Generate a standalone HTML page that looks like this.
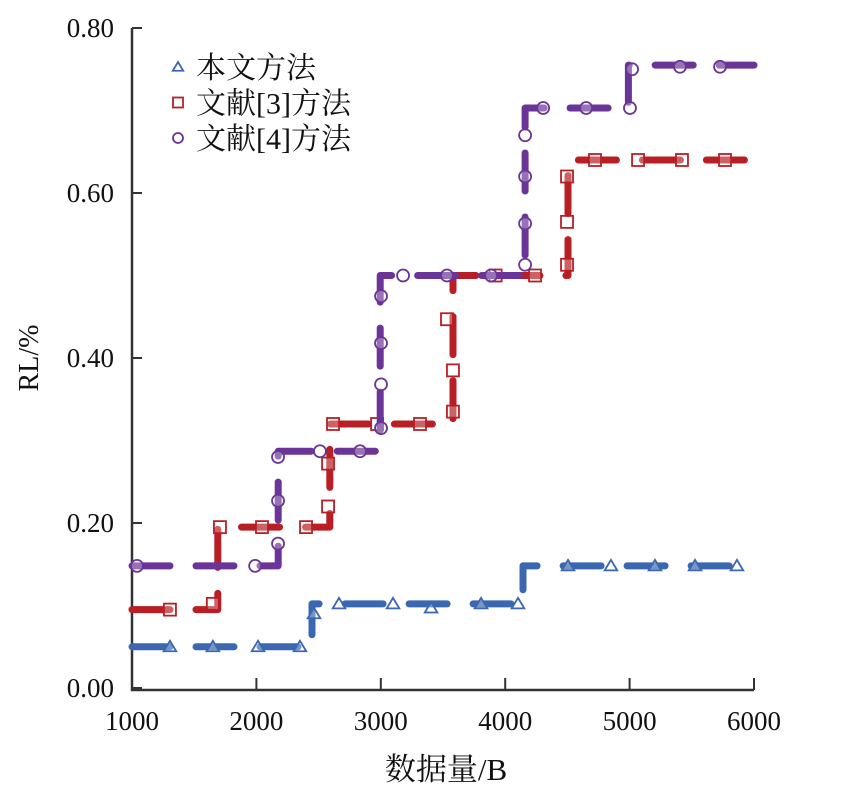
<!DOCTYPE html>
<html><head><meta charset="utf-8"><style>
html,body{margin:0;padding:0;background:#fff;width:846px;height:796px;overflow:hidden}
svg text{font-family:"Liberation Serif","Noto Serif CJK SC",serif;fill:#111}
</style></head><body>
<svg id="chart" width="846" height="796" viewBox="0 0 846 796" xmlns="http://www.w3.org/2000/svg"></svg>
<script>
const xTicks=[1000,2000,3000,4000,5000,6000];
const yTicks=[0,0.2,0.4,0.6,0.8];
const yTickLabels=["0.00","0.20","0.40","0.60","0.80"];
// step series: [x,y] breakpoints
const blueSteps=[[1000,0.05],[2447,0.05],[2447,0.102],[4143,0.102],[4143,0.148],[6000,0.148]];
const redSteps=[[1000,0.095],[1690,0.095],[1690,0.195],[2590,0.195],[2590,0.32],[3580,0.32],[3580,0.5],[4505,0.5],[4505,0.64],[6000,0.64]];
const purpleSteps=[[1000,0.148],[2175,0.148],[2175,0.287],[2995,0.287],[2995,0.5],[4160,0.5],[4160,0.703],[4990,0.703],[4990,0.755],[6000,0.755]];
const blueMarkers=[[1305,0.05],[1650,0.05],[2013,0.05],[2350,0.05],[2463,0.09],[2664,0.102],[3098,0.102],[3404,0.097],[3806,0.102],[4103,0.102],[4505,0.148],[4850,0.148],[5204,0.148],[5526,0.148],[5863,0.148]];
const redMarkers=[[1305,0.095],[1650,0.102],[1707,0.195],[2045,0.195],[2399,0.195],[2576,0.22],[2576,0.272],[2616,0.32],[2970,0.32],[3315,0.32],[3580,0.335],[3580,0.385],[3532,0.447],[3923,0.5],[4240,0.5],[4497,0.513],[4497,0.565],[4497,0.62],[4722,0.64],[5068,0.64],[5421,0.64],[5767,0.64]];
const purpleMarkers=[[1040,0.148],[1990,0.148],[2174,0.175],[2174,0.227],[2174,0.28],[2511,0.287],[2833,0.287],[3002,0.315],[3002,0.368],[3002,0.418],[3002,0.475],[3179,0.5],[3532,0.5],[3886,0.5],[4160,0.513],[4160,0.563],[4160,0.62],[4160,0.67],[4305,0.703],[4651,0.703],[5003,0.703],[5020,0.75],[5405,0.753],[5727,0.753]];

const NS="http://www.w3.org/2000/svg";
const svg=document.getElementById('chart');
const X0=132,X1=754,Y0=688,Y1=28;
const sx=v=>X0+(v-1000)/5000*(X1-X0);
const sy=v=>Y0-v/0.8*(Y0-Y1);
function mk(tag,attrs,parent){const e=document.createElementNS(NS,tag);for(const k in attrs)e.setAttribute(k,attrs[k]);(parent||svg).appendChild(e);return e;}

const ax=mk('path',{d:`M${X0},${Y1} V${Y0+2} H${X1}`,stroke:'#333',"stroke-width":2.5,fill:'none'});


xTicks.forEach(t=>{
  const l=mk('line',{x1:sx(t),x2:sx(t),y1:Y0+2,y2:Y0-10,stroke:'#333',"stroke-width":2});
  
  
  const tx=mk('text',{x:sx(t),y:730,"text-anchor":'middle',"font-size":27});
  tx.textContent=t;
  
  
});
yTicks.forEach((t,i)=>{
  const l=mk('line',{x1:X0,x2:X0+10,y1:sy(t),y2:sy(t),stroke:'#333',"stroke-width":2});
  
  
  const tx=mk('text',{x:114,y:sy(t)+9,"text-anchor":'end',"font-size":27});
  tx.textContent=yTickLabels[i];
  
  
});
const yt=mk('text',{x:0,y:0,"text-anchor":'middle',"font-size":28,transform:'translate(38,358) rotate(-90)'});
yt.textContent='RL/%';


const xt=mk('text',{x:446,y:780,"text-anchor":'middle',"font-size":31});
xt.textContent='数据量/B';



function marker(type,x,y,color,r,parent){
  let e;
  if(type==='tri'){e=mk('path',{d:`M${x},${y-r} L${x+r*1.05},${y+r*0.75} L${x-r*1.05},${y+r*0.75} Z`,fill:'#fff',"fill-opacity":0.3,stroke:color,"stroke-width":1.8},parent);}
  else if(type==='sq'){e=mk('rect',{x:x-r,y:y-r,width:2*r,height:2*r,fill:'#fff',"fill-opacity":0.3,stroke:color,"stroke-width":1.8},parent);}
  else {e=mk('circle',{cx:x,cy:y,r:r,fill:'#fff',"fill-opacity":0.3,stroke:color,"stroke-width":1.8},parent);}
  return e;
}
const series=[
 {name:'blue-series',steps:blueSteps,markers:blueMarkers,color:'#3b67b0',type:'tri'},
 {name:'red-series',steps:redSteps,markers:redMarkers,color:'#b81f25',type:'sq'},
 {name:'purple-series',steps:purpleSteps,markers:purpleMarkers,color:'#6a3596',type:'circ'}
];
series.forEach(s=>{
  const g=mk('g',{});
  
  
  const d=s.steps.map((p,i)=>(i?'L':'M')+sx(p[0]).toFixed(1)+','+sy(p[1]).toFixed(1)).join(' ');
  const p=mk('path',{d:d,fill:'none',stroke:s.color,"stroke-width":7,"stroke-linecap":'round',"stroke-linejoin":'round',"stroke-dasharray":'38 26'},g);
  
  
  s.markers.forEach(m=>{
    const e=marker(s.type,sx(m[0]),sy(m[1]),s.color,6,g);
    
    
  });
});
const legend=[['tri','#3b67b0','本文方法'],['sq','#b81f25','文献[3]方法'],['circ','#6a3596','文献[4]方法']];
legend.forEach((l,i)=>{
  const y=67+i*35.5;
  const g=mk('g',{});
  
  
  marker(l[0],178,y,l[1],5,g);
  const t=mk('text',{x:196,y:y+11,"font-size":30},g);
  t.textContent=l[2];
});
</script>
</body></html>
